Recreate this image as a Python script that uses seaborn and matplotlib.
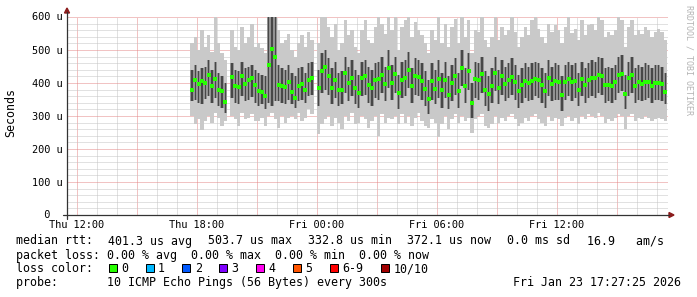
import numpy as np
import pandas as pd
import matplotlib
matplotlib.use("Agg")
import matplotlib.pyplot as plt
import matplotlib.dates as mdates
from matplotlib.patches import Rectangle, Polygon
from matplotlib.lines import Line2D
import seaborn as sns

# ------------------------------------------------------------------ data
start_time = "2026-01-22 17:40"
step = "10min"
nan = np.nan

median_us = [
    380, 408, 396, 405, 400, 425, 392, 412, 380, 375,
    343, nan, 418, 392, 388, 420, 398, 410, 416, 394,
    376, 372, 360, 455, 503.7, 480, 394, 390, 388, 402,
    372, 356, 392, 398, 380, 410, 414, nan, 384, 436,
    450, 420, 386, 410, 379, 380, 431, 400, 416, 386,
    370, 415, 420, 395, 385, 408, 412, 424, 397, 445,
    400, 427, 370, 410, 414, 438, 391, 421, 419, 406,
    381, 352, 405, 382, 412, 380, 410, 365, 400, 420,
    376, 445, 392, 435, 338, 412, 409, 428, 380, 366,
    390, 430, 385, 420, 398, 408, 419, 404, 375, 394,
    406, 400, 406, 411, 409, 393, 376, 414, 398, 407,
    404, 365, 404, 411, 402, 406, 378, 411, 394, 410,
    416, 414, 424, 420, 393, 394, 391, 402, 424, 428,
    366, 414, 424, 392, 404, 396, 404, 404, 391, 401,
    400, 398, 372.1,
]
smoke_min_us = [
    300, 275, 290, 258, 285, 300, 280, 310, 295, 270,
    285, nan, 300, 290, 270, 310, 290, 295, 305, 285,
    285, 295, 270, 300, 310, 290, 265, 300, 280, 295,
    300, 290, 310, 285, 295, 320, 305, nan, 245, 275,
    290, 300, 270, 295, 280, 260, 300, 285, 310, 275,
    280, 300, 290, 265, 285, 300, 240, 305, 280, 295,
    290, 300, 275, 305, 280, 300, 270, 295, 310, 285,
    270, 265, 290, 280, 236, 275, 300, 260, 290, 305,
    280, 300, 285, 295, 250, 290, 300, 305, 270, 265,
    275, 300, 280, 295, 285, 300, 305, 290, 270, 280,
    295, 285, 300, 305, 290, 280, 270, 300, 285, 295,
    290, 270, 295, 300, 285, 295, 275, 300, 290, 305,
    300, 295, 310, 300, 280, 290, 285, 295, 305, 300,
    260, 300, 305, 285, 295, 290, 300, 295, 285, 290,
    295, 290, 285,
]
smoke_q1_us = [
    345, 350, 340, 335, 352, 360, 338, 355, 330, 325,
    310, nan, 355, 340, 335, 360, 345, 350, 358, 338,
    330, 335, 320, 340, 330, 345, 345, 340, 335, 350,
    335, 325, 345, 350, 340, 360, 365, nan, 330, 370,
    380, 365, 335, 355, 330, 335, 370, 345, 360, 335,
    325, 360, 365, 340, 330, 355, 350, 370, 345, 385,
    350, 370, 320, 355, 360, 385, 340, 365, 360, 350,
    330, 305, 350, 335, 355, 325, 355, 320, 345, 365,
    325, 390, 340, 380, 295, 355, 350, 370, 330, 315,
    340, 375, 335, 365, 345, 355, 365, 350, 325, 340,
    355, 345, 350, 360, 355, 340, 325, 360, 345, 350,
    350, 315, 350, 360, 345, 355, 330, 360, 340, 355,
    360, 355, 370, 365, 340, 345, 340, 350, 370, 375,
    320, 360, 370, 340, 350, 345, 350, 355, 340, 350,
    350, 345, 335,
]
smoke_q3_us = [
    440, 455, 435, 445, 450, 470, 440, 465, 430, 420,
    400, nan, 460, 440, 435, 465, 445, 450, 455, 440,
    430, 425, 420, 620, 620, 620, 455, 445, 440, 455,
    430, 420, 445, 450, 430, 460, 465, nan, 440, 490,
    500, 475, 445, 465, 430, 435, 480, 450, 470, 440,
    425, 465, 470, 450, 440, 460, 465, 480, 450, 500,
    455, 480, 425, 465, 470, 495, 445, 475, 470, 460,
    435, 410, 460, 440, 470, 430, 465, 420, 455, 475,
    430, 500, 445, 490, 400, 465, 460, 480, 435, 420,
    445, 480, 440, 470, 450, 460, 475, 455, 425, 445,
    460, 450, 460, 465, 460, 445, 430, 470, 450, 460,
    455, 420, 455, 465, 455, 460, 430, 465, 445, 460,
    470, 465, 480, 475, 445, 450, 445, 455, 480, 485,
    425, 465, 480, 445, 455, 450, 460, 455, 445, 455,
    455, 450, 430,
]
smoke_max_us = [
    520, 540, 500, 560, 510, 545, 495, 600, 520, 490,
    470, nan, 560, 510, 500, 570, 520, 540, 580, 510,
    520, 505, 490, 620, 620, 620, 560, 520, 530, 550,
    500, 480, 520, 545, 510, 555, 530, nan, 520, 600,
    600, 570, 540, 580, 500, 520, 590, 545, 560, 510,
    490, 560, 590, 530, 520, 570, 600, 580, 550, 600,
    560, 600, 500, 570, 590, 600, 540, 585, 560, 545,
    520, 490, 560, 530, 600, 520, 580, 510, 570, 595,
    520, 600, 540, 590, 490, 560, 555, 600, 530, 510,
    540, 600, 530, 570, 545, 560, 600, 555, 510, 540,
    570, 545, 590, 600, 565, 540, 520, 580, 555, 575,
    560, 520, 570, 600, 550, 565, 530, 590, 545, 575,
    580, 560, 600, 590, 540, 555, 545, 560, 600, 590,
    510, 570, 590, 545, 560, 550, 570, 560, 540, 555,
    565, 555, 530,
]

x_tick_times = ["2026-01-22 12:00", "2026-01-22 15:00", "2026-01-22 18:00",
                "2026-01-22 21:00", "2026-01-23 00:00", "2026-01-23 03:00",
                "2026-01-23 06:00", "2026-01-23 09:00", "2026-01-23 12:00",
                "2026-01-23 15:00"]
x_tick_labels = ["Thu 12:00", "", "Thu 18:00", "", "Fri 00:00", "",
                 "Fri 06:00", "", "Fri 12:00", ""]
y_ticks = [0, 100, 200, 300, 400, 500, 600]
y_tick_labels = ["  0  ", "100 u", "200 u", "300 u", "400 u", "500 u", "600 u"]

rtt_title = "median rtt:"
rtt_items = ["401.3 us avg", "503.7 us max", "332.8 us min", "372.1 us now",
             "0.0 ms sd", "16.9   am/s"]
loss_line = "packet loss: 0.00 % avg  0.00 % max  0.00 % min  0.00 % now"
loss_title = "loss color:"
loss_labels = ["0", "1", "2", "3", "4", "5", "6-9", "10/10"]
loss_colors = ["#26ff00", "#00b8ff", "#0059ff", "#7e00ff", "#ff00f0",
               "#ff5500", "#ff0000", "#a10000"]
probe_line = "probe:       10 ICMP Echo Pings (56 Bytes) every 300s"
stamp = "Fri Jan 23 17:27:25 2026"
watermark = "RRDTOOL / TOBI OETIKER"

# ------------------------------------------------------------------ style
W, H = 697, 297
sns.set_style("white")
plt.rcParams["font.family"] = ["DejaVu Sans Mono"]
FS = 8.4       # legend / unit font
FS_AX = 7.35   # axis tick font
FONT_C = "#000000"

fig = plt.figure(figsize=(W / 100, H / 100), dpi=100)
fig.patch.set_facecolor("white")


def fx(x):
    return x / W


def fy(y):
    return 1 - y / H


L, R, T, B = 67, 668, 17, 215
ax = fig.add_axes([fx(L), fy(B), (R - L) / W, (B - T) / H])
ax.set_facecolor("white")
for s in ax.spines.values():
    s.set_visible(False)

times = pd.date_range(start_time, periods=len(median_us), freq=step)
tnum = mdates.date2num(times)
stepd = 10 / 1440.0
df = pd.DataFrame({
    "t": tnum, "tmid": tnum + stepd / 2, "median": median_us,
    "lo": smoke_min_us, "q1": smoke_q1_us, "q3": smoke_q3_us, "hi": smoke_max_us,
}).dropna()

x0 = mdates.date2num(pd.Timestamp("2026-01-22 11:30"))
ax.set_xlim(x0, x0 + (R - L) / 20.0 / 24.0)
ax.set_ylim(0, 600)

# grid
xt = mdates.date2num(pd.to_datetime(x_tick_times))
ax.set_xticks(xt)
ax.set_xticks(mdates.date2num(pd.date_range("2026-01-22 12:00", "2026-01-23 17:00", freq="1h")),
              minor=True)
ax.set_yticks(y_ticks)
ax.set_yticks(np.arange(0, 601, 20), minor=True)
ax.tick_params(labelleft=False, labelbottom=False)
ax.tick_params(which="major", direction="out", length=2.0, width=0.72, color="#404040")
ax.tick_params(which="minor", direction="out", length=1.2, width=0.72, color="#404040")
ax.grid(which="minor", color="#c4c4c4", linestyle=(0, (1, 1)), linewidth=0.72)
ax.grid(which="major", color="#e58888", linestyle=(0, (1, 1)), linewidth=0.72)
ax.set_axisbelow(True)

# smoke
ax.bar(df["t"], df["hi"] - df["lo"], bottom=df["lo"], width=stepd, align="edge",
       color="#c9c9c9", linewidth=0, zorder=2)
ax.bar(df["t"], df["q3"] - df["q1"], bottom=df["q1"], width=stepd, align="edge",
       color="#929292", linewidth=0, zorder=3)
ax.bar(df["tmid"], df["q3"] - df["q1"], bottom=df["q1"], width=stepd * 0.38,
       align="center", color="#474747", linewidth=0, zorder=4)

# median
sns.scatterplot(data=df, x="tmid", y="median", marker="s", s=5, color="#26ff00",
                linewidth=0, ax=ax, legend=False, zorder=6)
ax.set_xlabel("")
ax.set_ylabel("")

# axis lines + arrows
fig.add_artist(Line2D([fx(L), fx(L)], [fy(219), fy(12)], color="#333333", lw=0.9))
fig.add_artist(Line2D([fx(63), fx(669)], [fy(B), fy(B)], color="#333333", lw=0.9))
fig.add_artist(Polygon([[fx(64.5), fy(13)], [fx(69.5), fy(13)], [fx(67), fy(8)]],
                       closed=True, color="#8b1c1c", transform=fig.transFigure))
fig.add_artist(Polygon([[fx(669), fy(212.5)], [fx(669), fy(217.5)], [fx(674), fy(215)]],
                       closed=True, color="#8b1c1c", transform=fig.transFigure))

# tick labels
for t, lab in zip(xt, x_tick_labels):
    if lab:
        xp = L + (t - x0) * 24 * 20
        fig.text(fx(xp), fy(227.5), lab, ha="center", va="baseline", fontsize=FS_AX,
                 color=FONT_C)
for v, lab in zip(y_ticks, y_tick_labels):
    yp = B - v * (B - T) / 600.0
    fig.text(fx(31.5), fy(yp + 3.5), lab, ha="left", va="baseline", fontsize=FS_AX,
             color=FONT_C)

fig.text(fx(11), fy(113), "Seconds", rotation=90, ha="center", va="center",
         fontsize=FS, color=FONT_C)
fig.text(fx(688.5), fy(5), watermark, rotation=270, ha="center", va="top",
         fontsize=6, color="#b4b4b4")

# legend block
fig.text(fx(16), fy(244.5), rtt_title, ha="left", va="baseline", fontsize=FS, color=FONT_C)
rtt_x = [108, 208, 308, 407, 507, 587]
for xp, item in zip(rtt_x, rtt_items):
    fig.text(fx(xp), fy(244.5), item, ha="left", va="baseline", fontsize=FS, color=FONT_C)
fig.text(fx(16), fy(258.5), loss_line, ha="left", va="baseline", fontsize=FS, color=FONT_C)
fig.text(fx(16), fy(272), loss_title, ha="left", va="baseline", fontsize=FS, color=FONT_C)
box_left = [109, 145.7, 182.3, 219.3, 256, 292.7, 330, 381]
lab_left = [121, 158, 194.7, 231.5, 268.5, 305.2, 342, 393.5]
for bx, lx, lab, col in zip(box_left, lab_left, loss_labels, loss_colors):
    fig.add_artist(Rectangle((fx(bx), fy(271.5)), 8 / W, 8 / H, transform=fig.transFigure,
                             facecolor=col, edgecolor="black", linewidth=0.72))
    fig.text(fx(lx), fy(272), lab, ha="left", va="baseline", fontsize=FS, color=FONT_C)
fig.text(fx(16), fy(286), probe_line, ha="left", va="baseline", fontsize=FS, color=FONT_C)
fig.text(fx(513), fy(286), stamp, ha="left", va="baseline", fontsize=FS, color=FONT_C)

fig.savefig("out.png", dpi=100, facecolor="white")
